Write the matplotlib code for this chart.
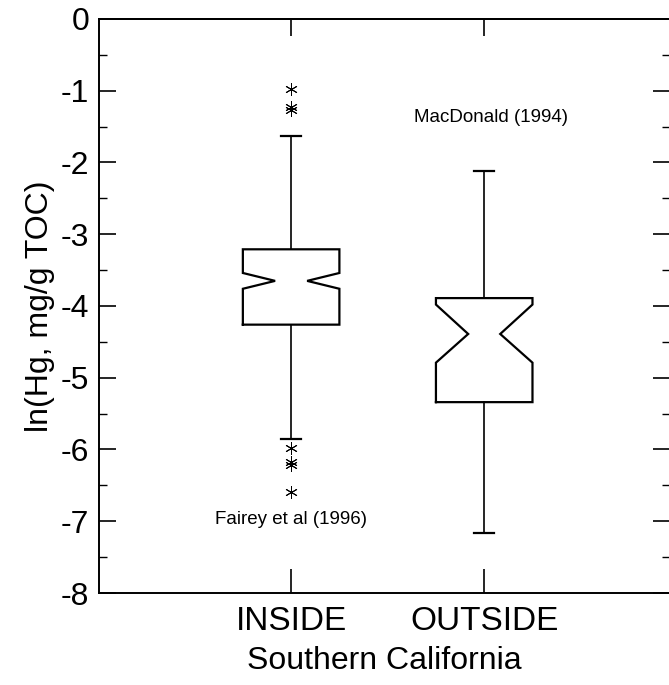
import matplotlib
matplotlib.use("Agg")
import matplotlib.pyplot as plt
from matplotlib.ticker import MultipleLocator

plt.rcParams['font.family'] = ['Liberation Sans', 'DejaVu Sans']
plt.rcParams['axes.unicode_minus'] = False

# Notched box plot statistics (ln Hg, mg/g TOC)
groups = ['INSIDE', 'OUTSIDE']
positions = [1, 2]
q1 = [-4.26, -5.34]
median = [-3.65, -4.39]
q3 = [-3.21, -3.89]
notch_lo = [-3.76, -4.79]
notch_hi = [-3.54, -3.98]
whisker_lo = [-5.85, -7.16]
whisker_hi = [-1.63, -2.12]
outliers = [[-0.98, -1.22, -1.27, -5.98, -6.18, -6.22, -6.59], []]

# Source notes
notes = ['Fairey et al (1996)', 'MacDonald (1994)']
note_x = [1.0, 2.033]
note_y = [-6.98, -1.37]

half_box = 0.25
half_notch = 0.083
half_cap = 0.052

fig = plt.figure(figsize=(6.69, 6.85), dpi=100)
ax = fig.add_axes([0.148, 0.1343, 0.854, 0.8380])

for i, x in enumerate(positions):
    bl, br = x - half_box, x + half_box
    nl, nr = x - half_notch, x + half_notch
    bx = [bl, br, br, nr, br, br, bl, bl, nl, bl, bl]
    by = [q1[i], q1[i], notch_lo[i], median[i], notch_hi[i], q3[i],
          q3[i], notch_hi[i], median[i], notch_lo[i], q1[i]]
    ax.plot(bx, by, color='black', lw=1.6, solid_joinstyle='miter')
    # whiskers and caps
    ax.plot([x, x], [q3[i], whisker_hi[i]], color='black', lw=1.2)
    ax.plot([x, x], [q1[i], whisker_lo[i]], color='black', lw=1.2)
    ax.plot([x - half_cap, x + half_cap], [whisker_hi[i]] * 2, color='black', lw=1.6)
    ax.plot([x - half_cap, x + half_cap], [whisker_lo[i]] * 2, color='black', lw=1.6)
    if outliers[i]:
        ax.plot([x] * len(outliers[i]), outliers[i], linestyle='none',
                marker=(6, 2, 0), markersize=9, color='black', mew=0.7)

for t, x, y in zip(notes, note_x, note_y):
    ax.text(x, y, t, fontsize=13.5, ha='center', va='center')

ax.set_xlim(0.005, 2.964)
ax.set_ylim(-8, 0)
ax.set_xticks(positions)
ax.set_xticklabels(groups, fontsize=24)
ax.yaxis.set_major_locator(MultipleLocator(1))
ax.yaxis.set_minor_locator(MultipleLocator(0.5))
ax.tick_params(axis='y', which='major', direction='in', length=12, width=1.2,
               labelsize=23, pad=7, right=True)
ax.tick_params(axis='y', which='minor', direction='in', length=6, width=1.0, right=True)
ax.tick_params(axis='x', which='major', direction='in', length=17, width=1.2, pad=9)

# shorter ticks along the top edge
top = ax.secondary_xaxis('top')
top.set_xticks(positions)
top.set_xticklabels([])
top.tick_params(direction='in', length=12, width=1.2)
top.spines['top'].set_linewidth(1.4)

ax.set_ylabel('ln(Hg, mg/g TOC)', fontsize=23, labelpad=4)
ax.set_xlabel('Southern California', fontsize=23, labelpad=7)
for side in ['left', 'bottom', 'top']:
    ax.spines[side].set_linewidth(1.4)
ax.spines['right'].set_visible(False)

fig.savefig('out.png', dpi=100)
